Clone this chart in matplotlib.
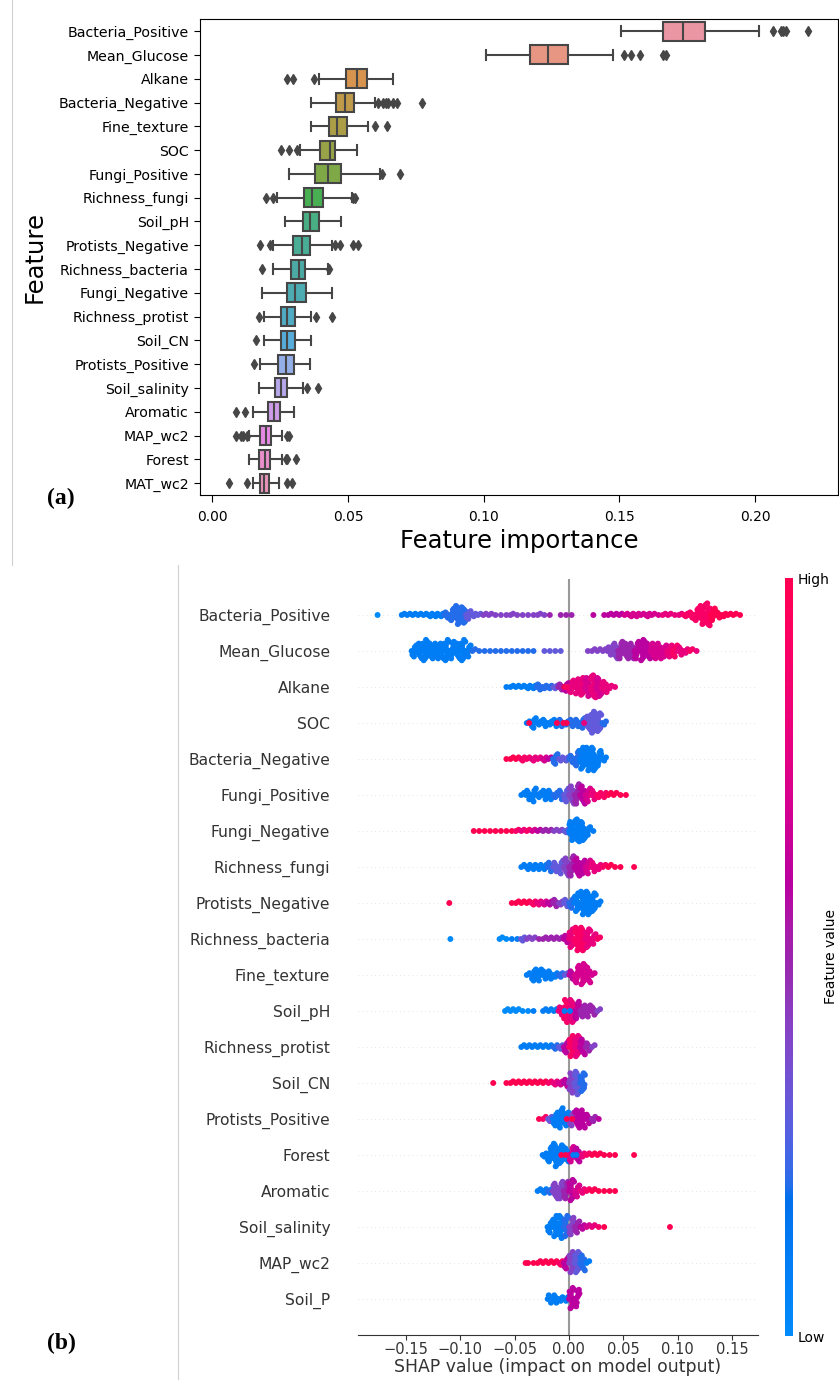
import colorsys
import numpy as np
import matplotlib
matplotlib.use("Agg")
import matplotlib.pyplot as plt
from matplotlib.colors import LinearSegmentedColormap, Normalize, rgb2hex
from matplotlib.lines import Line2D
import seaborn as sns

# ---------------- panel (a): box statistics ----------------
box_features = ["Bacteria_Positive", "Mean_Glucose", "Alkane", "Bacteria_Negative",
                "Fine_texture", "SOC", "Fungi_Positive", "Richness_fungi", "Soil_pH",
                "Protists_Negative", "Richness_bacteria", "Fungi_Negative",
                "Richness_protist", "Soil_CN", "Protists_Positive", "Soil_salinity",
                "Aromatic", "MAP_wc2", "Forest", "MAT_wc2"]
box_lo = [0.1504, 0.1009, 0.0395, 0.0364, 0.0363, 0.0324, 0.0282, 0.0238, 0.0268, 0.0225,
          0.0225, 0.0183, 0.0192, 0.0192, 0.0176, 0.0173, 0.0152, 0.0134, 0.0135, 0.0152]
box_q1 = [0.1660, 0.1169, 0.0493, 0.0456, 0.0429, 0.0397, 0.0378, 0.0338, 0.0333, 0.0297,
          0.0290, 0.0275, 0.0252, 0.0252, 0.0241, 0.0233, 0.0205, 0.0176, 0.0174, 0.0175]
box_med = [0.1735, 0.1238, 0.0532, 0.0490, 0.0458, 0.0434, 0.0425, 0.0369, 0.0360, 0.0330,
           0.0320, 0.0305, 0.0277, 0.0277, 0.0272, 0.0252, 0.0228, 0.0197, 0.0195, 0.0191]
box_q3 = [0.1815, 0.1311, 0.0569, 0.0522, 0.0495, 0.0453, 0.0475, 0.0407, 0.0393, 0.0360,
          0.0342, 0.0344, 0.0305, 0.0305, 0.0301, 0.0277, 0.0250, 0.0217, 0.0213, 0.0208]
box_hi = [0.2015, 0.1475, 0.0667, 0.0599, 0.0575, 0.0532, 0.0618, 0.0514, 0.0473, 0.0440,
          0.0428, 0.0440, 0.0365, 0.0364, 0.0360, 0.0336, 0.0301, 0.0256, 0.0256, 0.0245]
box_fliers = [
    [0.2064, 0.2094, 0.2103, 0.2113, 0.2196],
    [0.1515, 0.1544, 0.1574, 0.1660, 0.1671],
    [0.0275, 0.0299, 0.0376],
    [0.0611, 0.0630, 0.0640, 0.0648, 0.0667, 0.0679, 0.0772],
    [0.0599, 0.0645],
    [0.0252, 0.0284, 0.0311],
    [0.0627, 0.0691],
    [0.0197, 0.0225, 0.0520, 0.0527],
    [],
    [0.0176, 0.0211, 0.0452, 0.0471, 0.0517, 0.0538],
    [0.0185, 0.0430],
    [],
    [0.0173, 0.0381, 0.0441],
    [0.0162],
    [0.0154],
    [0.0350, 0.0391],
    [0.0088, 0.0121],
    [0.0086, 0.0105, 0.0115, 0.0127, 0.0275, 0.0284],
    [0.0272, 0.0277, 0.0309],
    [0.0061, 0.0129, 0.0275, 0.0293],
]

# ---------------- panel (b): SHAP beeswarm, binned (0.005 wide bins) ----------------
shap_features = ["Bacteria_Positive", "Mean_Glucose", "Alkane", "SOC", "Bacteria_Negative",
                 "Fungi_Positive", "Fungi_Negative", "Richness_fungi", "Protists_Negative",
                 "Richness_bacteria", "Fine_texture", "Soil_pH", "Richness_protist",
                 "Soil_CN", "Protists_Positive", "Forest", "Aromatic", "Soil_salinity",
                 "MAP_wc2", "Soil_P"]
bin_width = 0.005
shap_start = [-0.155, -0.145, -0.060, -0.040, -0.060, -0.045, -0.090, -0.045, -0.055, -0.065,
              -0.040, -0.060, -0.045, -0.060, -0.030, -0.025, -0.030, -0.020, -0.040, -0.020]
# points per bin
shap_counts = [
    [2, 2, 2, 2, 2, 3, 3, 3, 5, 10, 15, 13, 7, 3, 2, 2, 2, 1, 1, 1, 2, 1, 1, 1, 1, 2, 1, 1, 0,
     1, 1, 1, 0, 0, 0, 1, 0, 1, 2, 2, 2, 2, 3, 3, 2, 3, 2, 1, 2, 2, 1, 2, 3, 5, 10, 15, 18, 10,
     5, 3, 2, 2, 1],
    [7, 9, 12, 9, 9, 9, 12, 10, 9, 12, 7, 2, 1, 1, 1, 1, 1, 1, 1, 1, 1, 1, 1, 0, 1, 1, 1, 1, 0,
     0, 0, 0, 1, 2, 2, 2, 5, 9, 10, 9, 9, 10, 12, 9, 9, 9, 7, 7, 7, 5, 3, 2, 1],
    [1, 2, 2, 2, 3, 3, 5, 3, 3, 3, 5, 7, 10, 12, 14, 15, 18, 15, 9, 3, 1],
    [2, 7, 3, 5, 3, 5, 5, 3, 5, 5, 7, 9, 14, 12, 3],
    [1, 2, 2, 3, 2, 3, 2, 3, 2, 7, 3, 3, 5, 10, 14, 15, 15, 10, 3],
    [2, 5, 7, 3, 5, 5, 3, 5, 7, 9, 10, 9, 7, 5, 3, 3, 2, 2, 1, 1],
    [1, 1, 1, 1, 1, 1, 1, 1, 2, 2, 2, 2, 2, 2, 2, 2, 2, 3, 15, 18, 15, 7, 1],
    [2, 3, 3, 3, 3, 5, 5, 7, 9, 10, 9, 7, 7, 5, 3, 2, 2, 1, 1],
    [1, 2, 2, 2, 3, 3, 3, 3, 5, 3, 5, 7, 12, 15, 15, 12, 3],
    [2, 1, 1, 1, 3, 2, 2, 1, 2, 2, 2, 2, 5, 12, 15, 15, 12, 7, 2],
    [2, 7, 7, 5, 5, 3, 3, 2, 5, 10, 12, 9, 2],
    [2, 2, 2, 1, 1, 1, 0, 2, 2, 2, 5, 13, 13, 10, 7, 7, 5, 2],
    [2, 2, 2, 2, 2, 2, 3, 3, 7, 12, 12, 9, 5, 2],
    [1, 2, 2, 2, 2, 2, 2, 2, 2, 3, 3, 5, 13, 15, 12],
    [1, 2, 3, 7, 10, 7, 7, 9, 9, 5, 3, 1],
    [3, 10, 15, 12, 9, 10, 9, 3, 2, 2, 2, 1, 1, 1],
    [2, 3, 3, 9, 10, 10, 12, 7, 3, 2, 2, 1, 1, 1, 1],
    [7, 12, 13, 12, 10, 7, 3, 2, 2, 1, 1],
    [1, 1, 2, 2, 2, 2, 3, 7, 12, 12, 9, 2],
    [5, 5, 3, 3, 12, 10],
]
# feature value colour per bin, 0 = low (blue) ... 10 = high (red)
shap_colors = [
    [1, 1, 1, 1, 1, 1, 1, 1, 2, 2, 2, 2, 3, 3, 3, 4, 4, 4, 4, 4, 4, 4, 4, 4, 4, 4, 4, 5, 4, 5,
     5, 5, 5, 5, 5, 6, 6, 6, 6, 6, 6, 7, 7, 7, 7, 7, 7, 7, 8, 8, 8, 8, 9, 9, 9, 9, 9, 10, 10, 10,
     10, 10, 10],
    [1, 1, 1, 1, 1, 1, 1, 1, 1, 1, 1, 2, 2, 2, 2, 2, 2, 2, 2, 2, 2, 2, 2, 3, 3, 3, 3, 3, 3, 3,
     4, 4, 4, 4, 4, 4, 4, 4, 5, 5, 5, 6, 6, 6, 7, 7, 7, 8, 9, 8, 8, 9, 8],
    [1, 1, 1, 1, 1, 1, 2, 2, 2, 3, 5, 6, 8, 8, 8, 7, 8, 7, 8, 8, 8],
    [1, 1, 1, 1, 1, 1, 2, 2, 2, 2, 2, 3, 3, 3, 2],
    [10, 10, 10, 9, 9, 8, 8, 7, 6, 2, 3, 3, 2, 2, 1, 1, 1, 1, 1],
    [1, 1, 1, 1, 1, 1, 2, 2, 3, 4, 5, 6, 7, 8, 9, 9, 10, 10, 10, 10],
    [10, 10, 10, 10, 10, 10, 10, 10, 9, 8, 9, 7, 6, 5, 5, 4, 4, 3, 1, 1, 1, 1, 1],
    [1, 1, 1, 1, 1, 2, 3, 3, 4, 5, 6, 6, 7, 8, 8, 9, 10, 10, 10],
    [10, 10, 10, 10, 9, 8, 7, 6, 5, 4, 3, 2, 1, 1, 1, 1, 1],
    [0, 0, 1, 1, 3, 4, 4, 5, 5, 5, 5, 5, 6, 8, 9, 9, 8, 8, 9],
    [1, 1, 1, 1, 1, 1, 2, 3, 6, 7, 7, 7, 7],
    [0, 0, 0, 0, 0, 1, 1, 1, 1, 1, 8, 9, 8, 6, 5, 5, 5, 4],
    [1, 1, 1, 1, 1, 1, 2, 3, 6, 9, 8, 6, 5, 4],
    [10, 10, 10, 10, 10, 10, 10, 10, 9, 8, 7, 6, 4, 3, 2],
    [10, 9, 3, 1, 1, 1, 4, 6, 6, 6, 5, 6],
    [1, 1, 1, 1, 1, 7, 6, 8, 9, 10, 10, 10, 10, 10],
    [1, 1, 2, 4, 4, 5, 6, 7, 8, 9, 10, 10, 10, 10, 10],
    [1, 1, 1, 2, 4, 5, 6, 7, 8, 9, 10],
    [10, 10, 10, 10, 10, 10, 9, 6, 4, 3, 2, 1],
    [1, 1, 1, 1, 6, 6],
]
# single points: outliers and off-colour points (shap value, colour)
shap_extra = [
    [(-0.176, 0)],
    [],
    [(-0.004, 10), (-0.002, 9)],
    [(-0.0365, 10), (-0.011, 10), (-0.005, 10), (-0.002, 10), (0.014, 8)],
    [],
    [],
    [],
    [(0.060, 10)],
    [(-0.110, 10)],
    [(-0.109, 0)],
    [],
    [(-0.004, 1), (0.001, 1)],
    [],
    [(-0.0696, 10)],
    [(-0.002, 10), (0.003, 10)],
    [(0.060, 10), (-0.007, 10), (-0.003, 10), (0.004, 1), (0.007, 1)],
    [],
    [(0.093, 10)],
    [(-0.0398, 10)],
    [],
]


def lch2rgb(l, c, h):
    a, b = c * np.cos(h), c * np.sin(h)
    fy = (l + 16) / 116
    fx, fz = fy + a / 500, fy - b / 200
    d = 6 / 29

    def finv(t):
        return t ** 3 if t > d else 3 * d * d * (t - 4 / 29)

    xyz = np.array([0.95047 * finv(fx), finv(fy), 1.08883 * finv(fz)])
    m = np.array([[3.2406, -1.5372, -0.4986], [-0.9689, 1.8758, 0.0415], [0.0557, -0.2040, 1.0570]])
    lin = m @ xyz
    rgb = np.where(lin > 0.0031308, 1.055 * np.abs(lin) ** (1 / 2.4) - 0.055, 12.92 * lin)
    return np.clip(rgb, 0, 1)


# shap's red_blue map
nsteps = 100
l_vals = list(np.linspace(54, 40, nsteps // 2)) + list(np.linspace(40, 54, nsteps // 2))
c_vals = np.linspace(70, 90, nsteps)
h_vals = np.linspace(4.6588, 0.35470565 + 2 * np.pi, nsteps)
red_blue = LinearSegmentedColormap.from_list(
    "red_blue", [lch2rgb(l, c, h) for l, c, h in zip(l_vals, c_vals, h_vals)])

fig = plt.figure(figsize=(8.39, 13.8), dpi=100)
W, H = 839, 1380

# ---------------- (a) ----------------
ax1 = fig.add_axes([200 / W, 1 - 495 / H, 638 / W, 475.7 / H])
pal = [sns.desaturate(c, 0.75) for c in sns.husl_palette(len(box_features), l=0.7)]
lum = min(colorsys.rgb_to_hls(*c)[1] for c in pal) * 0.6
gray = rgb2hex((lum, lum, lum))

stats = []
for i in range(len(box_features)):
    stats.append(dict(med=box_med[i], q1=box_q1[i], q3=box_q3[i], whislo=box_lo[i],
                      whishi=box_hi[i], fliers=box_fliers[i]))
kw = dict(positions=range(len(stats)), widths=0.8, patch_artist=True,
          boxprops=dict(edgecolor=gray, linewidth=1.5),
          medianprops=dict(color=gray, linewidth=1.5),
          whiskerprops=dict(color=gray, linewidth=1.5),
          capprops=dict(color=gray, linewidth=1.5),
          flierprops=dict(marker="d", markersize=5, markerfacecolor=gray,
                          markeredgecolor=gray, linestyle="none"))
try:
    bp = ax1.bxp(stats, orientation="horizontal", **kw)
except TypeError:
    bp = ax1.bxp(stats, vert=False, **kw)
for patch, col in zip(bp["boxes"], pal):
    patch.set_facecolor(col)

ax1.set_ylim(len(box_features) - 0.5, -0.5)
ax1.set_xlim(-0.0045, 0.2305)
ax1.set_yticks(range(len(box_features)))
ax1.set_yticklabels(box_features, fontsize=10.2)
ax1.set_xticks([0.0, 0.05, 0.10, 0.15, 0.20])
ax1.set_xticklabels(["0.00", "0.05", "0.10", "0.15", "0.20"], fontsize=10)
ax1.tick_params(axis="y", length=4.5)
ax1.tick_params(axis="x", length=5, pad=5.5)
ax1.set_xlabel("Feature importance", fontsize=17.5)
ax1.set_ylabel("Feature", fontsize=17.5, labelpad=9)

# ---------------- (b) ----------------
ax2 = fig.add_axes([358 / W, 1 - 1335 / H, 400 / W, 756 / H])
nrows = len(shap_features)
golden = 0.6180339887
for i in range(nrows):
    pos = nrows - 1 - i
    ax2.axhline(y=pos, color="#cccccc", lw=0.5, dashes=(1, 5), zorder=-1)
    xs, layers, cols = [], [], []
    for k, (n, c) in enumerate(zip(shap_counts[i], shap_colors[i])):
        if n == 0:
            continue
        left = shap_start[i] + k * bin_width
        slots = (np.arange(n) + 0.5) / n
        order = np.argsort((np.arange(n) * golden) % 1)
        # stack the points of a bin up and down around the row line
        for j in range(n):
            xs.append(left + slots[order[j]] * bin_width)
            layers.append(np.ceil(j / 2) * ((j % 2) * 2 - 1))
            cols.append(c / 10)
    for v, c in shap_extra[i]:
        xs.append(v)
        layers.append(0)
        cols.append(c / 10)
    layers = np.array(layers)
    ys = layers * 0.9 * (0.4 / (np.max(np.abs(layers)) + 1))
    ax2.scatter(xs, pos + ys, c=cols, cmap=red_blue, vmin=0, vmax=1, s=18,
                linewidth=0, alpha=1, zorder=3)

ax2.axvline(x=0, color="#999999", zorder=-1)
ax2.set_ylim(-1, nrows)
ax2.set_xlim(-0.194, 0.174)
ax2.set_yticks(range(nrows))
ax2.set_yticklabels(shap_features[::-1], fontsize=11.2)
ax2.set_xticks([-0.15, -0.10, -0.05, 0.0, 0.05, 0.10, 0.15])
ax2.set_xticklabels(["\u22120.15", "\u22120.10", "\u22120.05", "0.00", "0.05", "0.10", "0.15"])
for s in ["top", "right", "left"]:
    ax2.spines[s].set_visible(False)
ax2.spines["bottom"].set_color("#333333")
ax2.tick_params(axis="x", colors="#333333", labelcolor="#333333", labelsize=10.5,
                length=3.5, pad=1.5)
ax2.tick_params(axis="y", length=0, pad=20, labelcolor="#333333")
ax2.set_xlabel("SHAP value (impact on model output)", fontsize=12.4, color="#333333",
               labelpad=1)

cax = fig.add_axes([785 / W, 1 - 1336 / H, 8 / W, 758 / H])
sm = plt.cm.ScalarMappable(cmap=red_blue, norm=Normalize(0, 1))
cb = fig.colorbar(sm, cax=cax, ticks=[0, 1])
cb.set_ticklabels(["Low", "High"])
cb.ax.tick_params(labelsize=10, length=0)
cb.outline.set_visible(False)
fig.text(831 / W, 1 - 957 / H, "Feature value", rotation=90, ha="center", va="center",
         fontsize=10)

# panel tags and frame edges of the composed picture
fig.text(47 / W, 1 - 498 / H, "(a)", family="Liberation Serif", weight="bold",
         fontsize=17, va="center")
fig.text(47 / W, 1 - 1343 / H, "(b)", family="Liberation Serif", weight="bold",
         fontsize=17, va="center")
fig.add_artist(Line2D([12 / W, 12 / W], [1 - 565 / H, 1], color="#d0d0d0", lw=0.8))
fig.add_artist(Line2D([178 / W, 178 / W], [0, 1 - 565 / H], color="#d0d0d0", lw=0.8))

fig.savefig("out.png", dpi=100)
